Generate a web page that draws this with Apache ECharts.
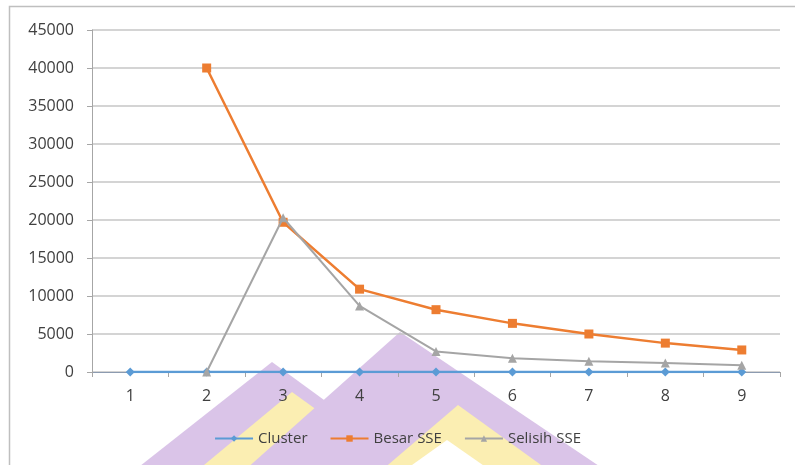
<!DOCTYPE html>
<html>
<head>
<meta charset="utf-8">
<script src="https://cdn.jsdelivr.net/npm/echarts@6/dist/echarts.min.js"></script>
<style>
  html, body { margin: 0; padding: 0; background: #fff; }
  #chart { width: 795px; height: 465px; }
</style>
</head>
<body>
<div id="chart"></div>
<script>
// data
const categories = ['1', '2', '3', '4', '5', '6', '7', '8', '9'];
const cluster = [1, 2, 3, 4, 5, 6, 7, 8, 9];
const besarSSE = [null, 40000, 19700, 10900, 8200, 6400, 5000, 3800, 2900];
const selisihSSE = [null, 0, 20300, 8700, 2700, 1800, 1400, 1200, 900];

const textColor = '#404040';
const font = 'Open Sans';
const purple = 'rgb(218,196,232)';
const yellow = 'rgb(251,238,178)';

const chart = echarts.init(document.getElementById('chart'));

// watermark triangle helper
function tri(points, color) {
  return {
    type: 'polygon',
    shape: { points: points },
    style: { fill: color },
    silent: true,
    z: 1
  };
}

chart.setOption({
  animation: false,
  backgroundColor: '#fff',
  grid: { left: 92, right: 15, top: 30, bottom: 93 },
  legend: {
    bottom: 14,
    left: 'center',
    itemGap: 22,
    itemWidth: 38,
    itemHeight: 8,
    textStyle: { color: textColor, fontFamily: font, fontSize: 15 },
    data: ['Cluster', 'Besar SSE', 'Selisih SSE'],
    z: 5
  },
  xAxis: {
    type: 'category',
    data: categories,
    boundaryGap: true,
    z: 3,
    axisLine: { lineStyle: { color: '#8c9bb0', width: 1 } },
    axisTick: { show: true, length: 5, lineStyle: { color: '#a6a6a6' } },
    axisLabel: { color: textColor, fontFamily: font, fontSize: 16, margin: 16 }
  },
  yAxis: {
    type: 'value',
    min: 0,
    max: 45000,
    interval: 5000,
    z: 3,
    axisLine: { show: true, lineStyle: { color: '#a6a6a6' } },
    axisTick: { show: true, length: 5, lineStyle: { color: '#a6a6a6' } },
    axisLabel: { color: textColor, fontFamily: font, fontSize: 16, margin: 18, formatter: v => String(v) },
    splitLine: { lineStyle: { color: '#c6c6c6', width: 1.5 } }
  },
  series: [
    {
      name: 'Cluster',
      type: 'line',
      data: cluster,
      symbol: 'diamond',
      symbolSize: 9,
      color: '#5b9bd5',
      lineStyle: { width: 2.5 },
      z: 4
    },
    {
      name: 'Besar SSE',
      type: 'line',
      data: besarSSE,
      symbol: 'rect',
      symbolSize: 9,
      color: '#ed7d31',
      lineStyle: { width: 2.5 },
      z: 5
    },
    {
      name: 'Selisih SSE',
      type: 'line',
      data: selisihSSE,
      symbol: 'triangle',
      symbolSize: 9,
      color: '#a5a5a5',
      lineStyle: { width: 2 },
      z: 6
    }
  ],
  graphic: [
    {
      type: 'rect',
      shape: { x: 9.5, y: 6.5, width: 800, height: 480 },
      style: { fill: 'none', stroke: '#bfbfbf', lineWidth: 1.5 },
      silent: true,
      z: 0
    },
    // watermark: small chevron, then big chevron on top
    tri([[135, 470], [272, 362], [420, 470]], purple),
    tri([[198, 470], [292, 392], [400, 470]], yellow),
    tri([[245, 470], [400, 332], [605, 470]], purple),
    tri([[382, 470], [458, 405], [548, 470]], yellow),
    tri([[405, 470], [447, 440], [490, 470]], '#fff')
  ]
});
</script>
</body>
</html>
